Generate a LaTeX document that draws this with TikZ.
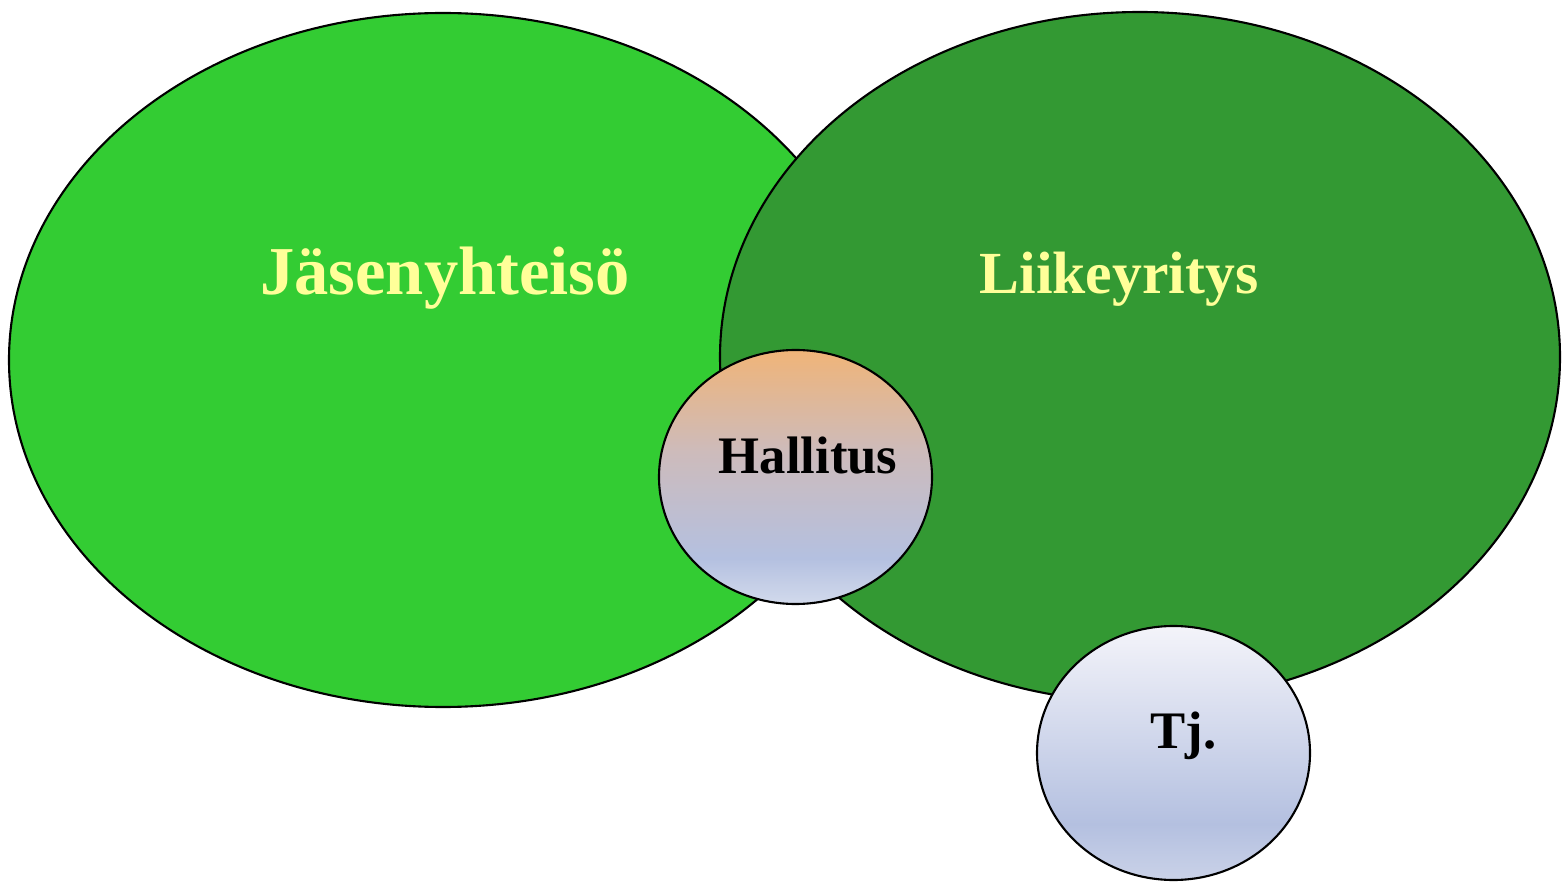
\documentclass[tikz,border=0pt]{standalone}
\usepackage{fontspec}
\setmainfont{Liberation Serif}
\usetikzlibrary{shapes, positioning}

\definecolor{memgreen}{HTML}{33CC33}
\definecolor{bizgreen}{HTML}{339933}
\definecolor{titleyellow}{HTML}{FFFF99}
\definecolor{boardorange}{HTML}{F0B478}
\definecolor{boardmid}{HTML}{CDBBBB}
\definecolor{paleblue}{HTML}{B4C0E0}
\definecolor{boardbottom}{HTML}{D2DAEC}
\definecolor{ceotop}{HTML}{F4F4FA}
\definecolor{ceobottom}{HTML}{CAD2E8}

\pgfdeclareverticalshading{boardshade}{100bp}{color(0bp)=(boardbottom); color(25bp)=(boardbottom); color(34bp)=(paleblue); color(55bp)=(boardmid); color(75bp)=(boardorange); color(100bp)=(boardorange)}
\pgfdeclareverticalshading{ceoshade}{100bp}{color(0bp)=(ceobottom); color(25bp)=(ceobottom); color(36bp)=(paleblue); color(75bp)=(ceotop); color(100bp)=(ceotop)}

\begin{document}
\begin{tikzpicture}[line width=0.6pt,
    blob/.style={draw=black, ellipse, inner sep=0pt},
    title/.style={anchor=base, text=titleyellow, font=\bfseries},
    role/.style={anchor=base, text=black, font=\bfseries\fontsize{15}{18}\selectfont}]
    \useasboundingbox (0,0) rectangle (15.65,8.86);
    \node [blob, fill=memgreen, minimum width=8.68cm, minimum height=6.94cm] (Members) at (4.43, 5.26) {};
    \node [blob, fill=bizgreen, minimum width=8.40cm, minimum height=6.90cm] (Business) at (11.40, 5.29) {};
    \node [blob, shading=boardshade, minimum width=2.73cm, minimum height=2.54cm] (Board) at (7.955, 4.09) {};
    \node [blob, shading=ceoshade, minimum width=2.73cm, minimum height=2.54cm] (Ceo) at (11.735, 1.33) {};
    \node [title, font=\bfseries\fontsize{19.5}{23}\selectfont] (MembersText) at (4.45, 5.91) {Jäsenyhteisö};
    \node [title, font=\bfseries\fontsize{17}{20}\selectfont] (BusinessText) at (11.19, 5.92) {Liikeyritys};
    \node [role] (BoardText) at (8.08, 4.12) {Hallitus};
    \node [role] (CeoText) at (11.835, 1.38) {Tj.};
\end{tikzpicture}
\end{document}
